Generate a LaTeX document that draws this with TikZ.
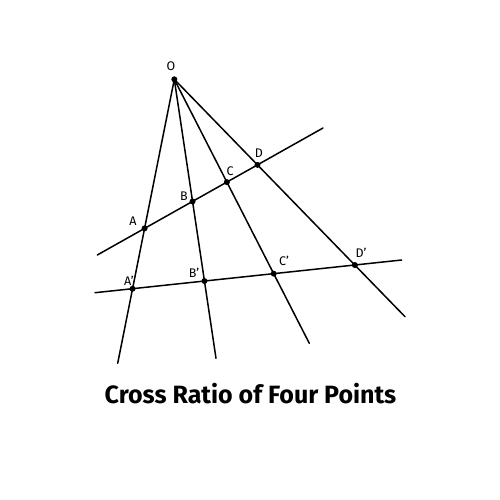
\documentclass[tikz,border=0pt]{standalone}
\usepackage{fontspec}
\setmainfont{Fira Sans}
\usetikzlibrary{calc}
\begin{document}
\begin{tikzpicture}[x=1pt,y=-1pt,
  ray/.style={line width=1.5pt,line cap=round},
  pt/.style={circle,fill=black,inner sep=0pt,minimum size=6pt},
  lbl/.style={font=\fontsize{12.5}{14}\selectfont,inner sep=0pt}]
\useasboundingbox (0,0) rectangle (500,500);
\coordinate (O) at (174.3,79.3);
\coordinate (Ra) at (117.7,363.3);
\coordinate (Rb) at (216,358.3);
\coordinate (Rc) at (309.3,343.3);
\coordinate (Rd) at (405,316.7);
\coordinate (U1) at (97.3,255);
\coordinate (U2) at (323,128);
\coordinate (L1) at (95,292.7);
\coordinate (L2) at (401.7,260);
\foreach \r in {Ra,Rb,Rc,Rd} \draw[ray] (O) -- (\r);
\draw[ray] (U1) -- (U2);
\draw[ray] (L1) -- (L2);
\node[pt] (o) at (O) {};
\node[pt] (A) at (intersection of O--Ra and U1--U2) {};
\node[pt] (B) at (intersection of O--Rb and U1--U2) {};
\node[pt] (C) at (intersection of O--Rc and U1--U2) {};
\node[pt] (D) at (intersection of O--Rd and U1--U2) {};
\node[pt] (A2) at (intersection of O--Ra and L1--L2) {};
\node[pt] (B2) at (intersection of O--Rb and L1--L2) {};
\node[pt] (C2) at (intersection of O--Rc and L1--L2) {};
\node[pt] (D2) at (intersection of O--Rd and L1--L2) {};
\node[lbl] (lo) at (171,66) {O};
\node[lbl] (la) at (133,221) {A};
\node[lbl] (lb) at (184,196) {B};
\node[lbl] (lc) at (230,171) {C};
\node[lbl] (ld) at (259,153) {D};
\node[lbl] (la2) at (129,281) {A’};
\node[lbl] (lb2) at (194,273) {B’};
\node[lbl] (lc2) at (284,261) {C’};
\node[lbl] (ld2) at (361,253) {D’};
\node[font=\bfseries\fontsize{25}{29}\selectfont,inner sep=0pt] (title) at (250.5,394) {Cross Ratio of Four Points};
\end{tikzpicture}
\end{document}
